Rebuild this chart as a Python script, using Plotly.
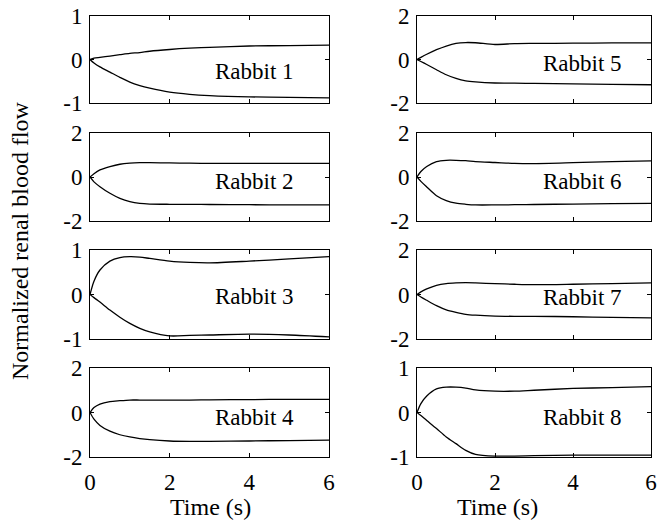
import plotly.graph_objects as go

# ---- data ----
T = [0, 0.1, 0.25, 0.5, 0.75, 1.0, 1.25, 1.5, 2.0, 2.5, 3.0, 4.0, 5.0, 6.0]

rabbit_names = ["Rabbit 1", "Rabbit 2", "Rabbit 3", "Rabbit 4",
                "Rabbit 5", "Rabbit 6", "Rabbit 7", "Rabbit 8"]

r1_up = [0, 0.03, 0.05, 0.08, 0.11, 0.14, 0.16, 0.19, 0.23, 0.26, 0.28, 0.31, 0.32, 0.33]
r1_dn = [0, -0.08, -0.17, -0.29, -0.41, -0.52, -0.60, -0.66, -0.75, -0.80, -0.83, -0.86, -0.87, -0.88]
r2_up = [0, 0.15, 0.32, 0.47, 0.58, 0.63, 0.65, 0.65, 0.64, 0.63, 0.62, 0.62, 0.62, 0.62]
r2_dn = [0, -0.22, -0.44, -0.74, -0.97, -1.12, -1.20, -1.23, -1.24, -1.24, -1.25, -1.26, -1.27, -1.27]
r3_up = [0, 0.30, 0.55, 0.75, 0.83, 0.85, 0.84, 0.81, 0.75, 0.72, 0.71, 0.75, 0.80, 0.85]
r3_dn = [0, -0.07, -0.17, -0.35, -0.51, -0.65, -0.76, -0.84, -0.93, -0.92, -0.91, -0.89, -0.91, -0.95]
r4_up = [0, 0.22, 0.38, 0.49, 0.53, 0.56, 0.56, 0.56, 0.56, 0.56, 0.57, 0.58, 0.59, 0.59]
r4_dn = [0, -0.30, -0.58, -0.84, -1.00, -1.10, -1.17, -1.22, -1.28, -1.30, -1.30, -1.28, -1.26, -1.24]
r5_up = [0, 0.10, 0.24, 0.45, 0.62, 0.74, 0.78, 0.77, 0.69, 0.73, 0.74, 0.75, 0.76, 0.76]
r5_dn = [0, -0.09, -0.23, -0.47, -0.70, -0.87, -0.98, -1.03, -1.08, -1.09, -1.10, -1.12, -1.14, -1.16]
r6_up = [0, 0.25, 0.48, 0.70, 0.76, 0.76, 0.74, 0.70, 0.66, 0.62, 0.61, 0.65, 0.70, 0.73]
r6_dn = [0, -0.20, -0.45, -0.85, -1.07, -1.19, -1.24, -1.27, -1.27, -1.26, -1.25, -1.23, -1.21, -1.20]
r7_up = [0, 0.12, 0.25, 0.41, 0.49, 0.52, 0.53, 0.52, 0.49, 0.46, 0.44, 0.46, 0.49, 0.52]
r7_dn = [0, -0.11, -0.26, -0.50, -0.69, -0.80, -0.89, -0.93, -0.97, -0.98, -0.98, -1.00, -1.03, -1.05]
r8_up = [0, 0.20, 0.37, 0.53, 0.57, 0.57, 0.55, 0.51, 0.48, 0.48, 0.50, 0.54, 0.56, 0.58]
r8_dn = [0, -0.07, -0.18, -0.36, -0.55, -0.70, -0.85, -0.94, -0.98, -0.98, -0.97, -0.96, -0.96, -0.96]

ups = [r1_up, r2_up, r3_up, r4_up, r5_up, r6_up, r7_up, r8_up]
downs = [r1_dn, r2_dn, r3_dn, r4_dn, r5_dn, r6_dn, r7_dn, r8_dn]
y_limits = [1, 2, 1, 2, 2, 2, 2, 1]

x_ticks = [0, 2, 4, 6]
x_ticktext = ["0", "2", "4", "6"]

# ---- layout geometry ----
W, H = 659, 522
col_px = [(90, 329), (417, 651)]
row_px = [(16, 103), (133, 221), (250, 339), (368, 457)]
label_pos = [(254, 71), (254, 181), (254, 296), (254, 417),
             (582, 63), (582, 181), (582, 297), (582, 417)]

FONT = "Liberation Serif, Times New Roman, serif"
FS = 23
FT = 24

fig = go.Figure()
layout = dict(
    template="none",
    width=W, height=H,
    margin=dict(l=0, r=0, t=0, b=0, pad=0, autoexpand=False),
    paper_bgcolor="white", plot_bgcolor="white",
    showlegend=False,
    font=dict(family=FONT, size=FS, color="black"),
)
annotations = []

for i in range(8):
    col = i // 4
    row = i % 4
    n = i + 1
    xa = "xaxis" if n == 1 else f"xaxis{n}"
    ya = "yaxis" if n == 1 else f"yaxis{n}"
    xr = "x" if n == 1 else f"x{n}"
    yr = "y" if n == 1 else f"y{n}"
    x0, x1 = col_px[col]
    t0, t1 = row_px[row]
    lim = y_limits[i]
    bottom = (row == 3)
    layout[xa] = dict(
        domain=[x0 / W, x1 / W], anchor=yr, range=[0, 6], automargin=False,
        tickvals=x_ticks, ticktext=x_ticktext, showticklabels=bottom,
        ticks="inside", ticklen=4, tickcolor="black", tickwidth=1,
        showline=True, linecolor="black", linewidth=1, mirror="allticks",
        showgrid=False, zeroline=False, ticklabelstandoff=4,
        ticklabeloverflow="allow",
        tickfont=dict(family=FONT, size=FS, color="black"),
    )
    layout[ya] = dict(
        domain=[1 - t1 / H, 1 - t0 / H], anchor=xr, range=[-lim, lim], automargin=False,
        tickvals=[-lim, 0, lim], ticktext=[f"-{lim}", "0", f"{lim}"],
        ticks="inside", ticklen=4, tickcolor="black", tickwidth=1,
        showline=True, linecolor="black", linewidth=1, mirror="allticks",
        showgrid=False, zeroline=False, ticklabelstandoff=2,
        ticklabeloverflow="allow",
        tickfont=dict(family=FONT, size=FS, color="black"),
    )
    for ys in (ups[i], downs[i]):
        fig.add_trace(go.Scatter(
            x=T, y=ys, mode="lines", xaxis=xr, yaxis=yr,
            line=dict(color="black", width=1.3, shape="spline", smoothing=0.8),
            hoverinfo="skip",
        ))
    lx, ly = label_pos[i]
    annotations.append(dict(
        text=rabbit_names[i], x=lx / W, y=1 - ly / H, xref="paper", yref="paper",
        showarrow=False, xanchor="center", yanchor="middle",
        font=dict(family=FONT, size=FS, color="black"),
    ))

for cx in (210, 497):
    annotations.append(dict(
        text="Time (s)", x=cx / W, y=1 - 507 / H, xref="paper", yref="paper",
        showarrow=False, xanchor="center", yanchor="middle",
        font=dict(family=FONT, size=FT, color="black"),
    ))
annotations.append(dict(
    text="Normalized renal blood flow", x=20 / W, y=1 - 241 / H,
    xref="paper", yref="paper", showarrow=False, textangle=-90,
    xanchor="center", yanchor="middle",
    font=dict(family=FONT, size=FT, color="black"),
))
layout["annotations"] = annotations
fig.update_layout(**layout)
fig.write_html("out.html")
